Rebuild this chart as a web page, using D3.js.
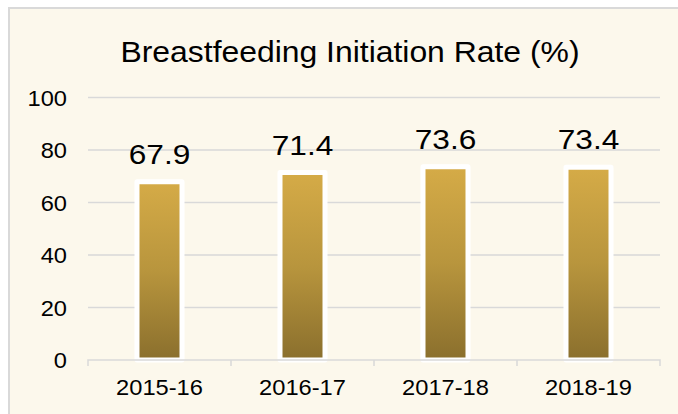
<!DOCTYPE html>
<html>
<head>
<meta charset="utf-8">
<script src="https://cdn.jsdelivr.net/npm/d3@7"></script>
<style>
  html, body { margin: 0; padding: 0; background: #ffffff; }
  svg { display: block; }
</style>
</head>
<body>
<svg id="chart" width="678" height="414"></svg>
<script>
const categories = ["2015-16", "2016-17", "2017-18", "2018-19"];
const values = [67.9, 71.4, 73.6, 73.4];
const yTicks = [0, 20, 40, 60, 80, 100];
const title = "Breastfeeding Initiation Rate (%)";

const W = 678, H = 414;
const svg = d3.select("#chart");
const font = "'Liberation Sans', Arial, sans-serif";
const SX = 1.1; // horizontal text stretch seen in reference

// panel
svg.append("rect").attr("x", 9).attr("y", 8).attr("width", W + 10).attr("height", H + 10)
  .attr("fill", "#fcf8ec").attr("stroke", "#d9d9d9").attr("stroke-width", 2);

const defs = svg.append("defs");
const grad = defs.append("linearGradient").attr("id", "barGrad")
  .attr("x1", 0).attr("y1", 0).attr("x2", 0).attr("y2", 1);
grad.append("stop").attr("offset", "0%").attr("stop-color", "#d5ab47");
grad.append("stop").attr("offset", "50%").attr("stop-color", "#b8953d");
grad.append("stop").attr("offset", "100%").attr("stop-color", "#8a6f2d");

const x = d3.scaleBand().domain(categories).range([88, 660]).paddingInner(0).paddingOuter(0);
const y = d3.scaleLinear().domain([0, 100]).range([360, 97.5]);

// title
svg.append("text")
  .attr("transform", `translate(350,62) scale(${SX},1)`)
  .attr("text-anchor", "middle")
  .attr("font-family", font).attr("font-size", 29).attr("fill", "#000")
  .text(title);

// gridlines
svg.append("g").selectAll("line").data(yTicks.filter(d => d > 0)).join("line")
  .attr("x1", 88).attr("x2", 660)
  .attr("y1", d => y(d)).attr("y2", d => y(d))
  .attr("stroke", "#d9d9d9").attr("stroke-width", 1.5);

// y labels
const yAxis = d3.axisLeft(y).tickValues(yTicks).tickSize(0).tickPadding(0);
const gy = svg.append("g").attr("transform", "translate(67,0)").call(yAxis);
gy.select(".domain").remove();
gy.selectAll("text").attr("font-family", font).attr("font-size", 21.5).attr("fill", "#000")
  .attr("x", 0).attr("y", 0).attr("dy", "0.36em")
  .attr("transform", `scale(${SX},1)`);

// bars
const bw = 45;
svg.append("g").selectAll("rect").data(values).join("rect")
  .attr("x", (d, i) => x(categories[i]) + x.bandwidth() / 2 - bw / 2)
  .attr("y", d => y(d))
  .attr("width", bw)
  .attr("height", d => y(0) - y(d))
  .attr("fill", "url(#barGrad)")
  .attr("stroke", "#ffffff").attr("stroke-width", 5).attr("stroke-linejoin", "round");

// x axis
const xAxis = d3.axisBottom(x).tickSize(0).tickPadding(0);
const gx = svg.append("g").attr("transform", `translate(0,${y(0)})`).call(xAxis);
gx.select(".domain").attr("stroke", "#d9d9d9").attr("stroke-width", 1.5)
  .attr("d", `M88,6V0H660V6`);
gx.selectAll(".tick line").remove();
gx.selectAll("text").attr("font-family", font).attr("font-size", 21.5).attr("fill", "#000")
  .attr("y", 35).attr("dy", 0)
  .attr("transform", `scale(${SX},1)`);
// category boundary ticks
gx.append("g").selectAll("line").data(categories.slice(1)).join("line")
  .attr("x1", d => x(d)).attr("x2", d => x(d)).attr("y1", 0).attr("y2", 6)
  .attr("stroke", "#d9d9d9").attr("stroke-width", 1.5);

// value labels
svg.append("g").selectAll("text").data(values).join("text")
  .attr("transform", (d, i) => `translate(${x(categories[i]) + x.bandwidth() / 2},${y(d) - 18}) scale(1.13,1)`)
  .attr("text-anchor", "middle")
  .attr("font-family", font).attr("font-size", 28).attr("fill", "#000")
  .text(d => d3.format(".1f")(d));
</script>
</body>
</html>
